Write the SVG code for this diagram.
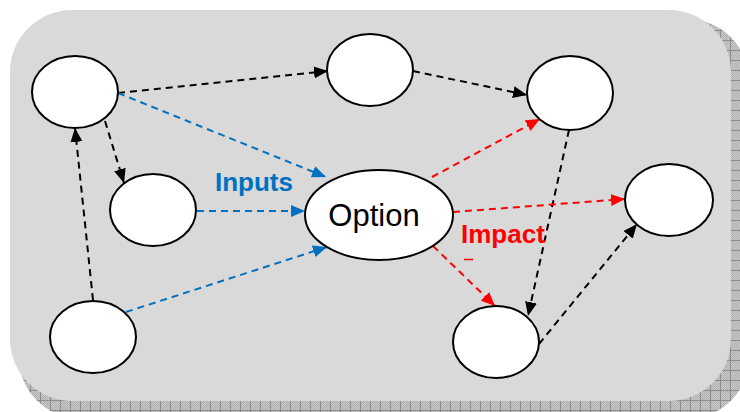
<svg xmlns="http://www.w3.org/2000/svg" width="740" height="412" viewBox="0 0 740 412">
<style>
.node ellipse{fill:#fff;stroke:#000;stroke-width:2}
.c{fill:none;stroke-width:2;stroke-dasharray:7 5}
.k{stroke:#000;marker-end:url(#ak)}
.b{stroke:#0070c0;marker-end:url(#ab)}
.r{stroke:#ff0000;marker-end:url(#ar)}
.lbl{font-family:"Liberation Sans",Arial,sans-serif;font-weight:bold;font-size:26px}
</style>
<defs>
<pattern id="chk" width="2" height="2" patternUnits="userSpaceOnUse">
<rect width="2" height="2" fill="#c8c8c8"/>
<rect width="1" height="1" fill="#b2b2b2"/>
<rect x="1" y="1" width="1" height="1" fill="#b2b2b2"/>
</pattern>
<pattern id="grid" width="10" height="10" patternUnits="userSpaceOnUse">
<rect width="10" height="10" fill="url(#chk)"/>
<path d="M0.5,0V10M0,0.5H10" stroke="#8c8c8c" stroke-width="1"/>
</pattern>
<marker id="ak" markerUnits="userSpaceOnUse" markerWidth="14" markerHeight="12" refX="14" refY="6" orient="auto"><path d="M0,0L14,6L0,12z" fill="#000"/></marker>
<marker id="ab" markerUnits="userSpaceOnUse" markerWidth="14" markerHeight="12" refX="14" refY="6" orient="auto"><path d="M0,0L14,6L0,12z" fill="#0070c0"/></marker>
<marker id="ar" markerUnits="userSpaceOnUse" markerWidth="14" markerHeight="12" refX="14" refY="6" orient="auto"><path d="M0,0L14,6L0,12z" fill="#ff0000"/></marker>
</defs>
<rect width="740" height="412" fill="#fff"/>
<g id="panel">
<rect x="19" y="19" width="730" height="400" rx="62" fill="url(#grid)"/>
<rect x="10" y="10" width="721" height="391" rx="62" fill="#d9d9d9"/>
</g>
<g id="connectors">
<line class="c k" x1="118" y1="93" x2="328" y2="71"/>
<line class="c k" x1="413" y1="71" x2="527" y2="95"/>
<line class="c k" x1="105" y1="121" x2="124" y2="183"/>
<line class="c k" x1="93" y1="300" x2="75" y2="128"/>
<line class="c k" x1="569" y1="130" x2="528" y2="316"/>
<line class="c k" x1="539" y1="344" x2="637" y2="224"/>
<line class="c b" x1="118" y1="93" x2="326" y2="177"/>
<line class="c b" x1="197" y1="211" x2="305" y2="211"/>
<line class="c b" x1="126" y1="312" x2="327" y2="247"/>
<line class="c r" x1="432" y1="177" x2="540" y2="119"/>
<line class="c r" x1="453" y1="212" x2="625" y2="199"/>
<line class="c r" x1="433" y1="246" x2="495" y2="306"/>
</g>
<g id="n1" class="node"><ellipse cx="75" cy="92" rx="43" ry="36"/></g>
<g id="n2" class="node"><ellipse cx="370" cy="70" rx="43" ry="36"/></g>
<g id="n3" class="node"><ellipse cx="570" cy="93" rx="43" ry="37"/></g>
<g id="n4" class="node"><ellipse cx="153" cy="210" rx="43" ry="36"/></g>
<g id="option" class="node"><ellipse cx="379" cy="215" rx="74" ry="45"/>
<text x="374" y="226" text-anchor="middle" font-family="Liberation Sans, Arial, sans-serif" font-size="31">Option</text></g>
<g id="n6" class="node"><ellipse cx="669" cy="200" rx="44" ry="36"/></g>
<g id="n7" class="node"><ellipse cx="93" cy="337" rx="43" ry="36"/></g>
<g id="n8" class="node"><ellipse cx="496" cy="342" rx="43" ry="36"/></g>
<g id="labels">
<text class="lbl" x="215" y="191" fill="#0070c0">Inputs</text>
<text class="lbl" x="461" y="243" fill="#ff0000">Impact</text>
<line x1="464" y1="259.5" x2="473" y2="259.5" stroke="#ff0000" stroke-width="1.5"/>
</g>
</svg>
